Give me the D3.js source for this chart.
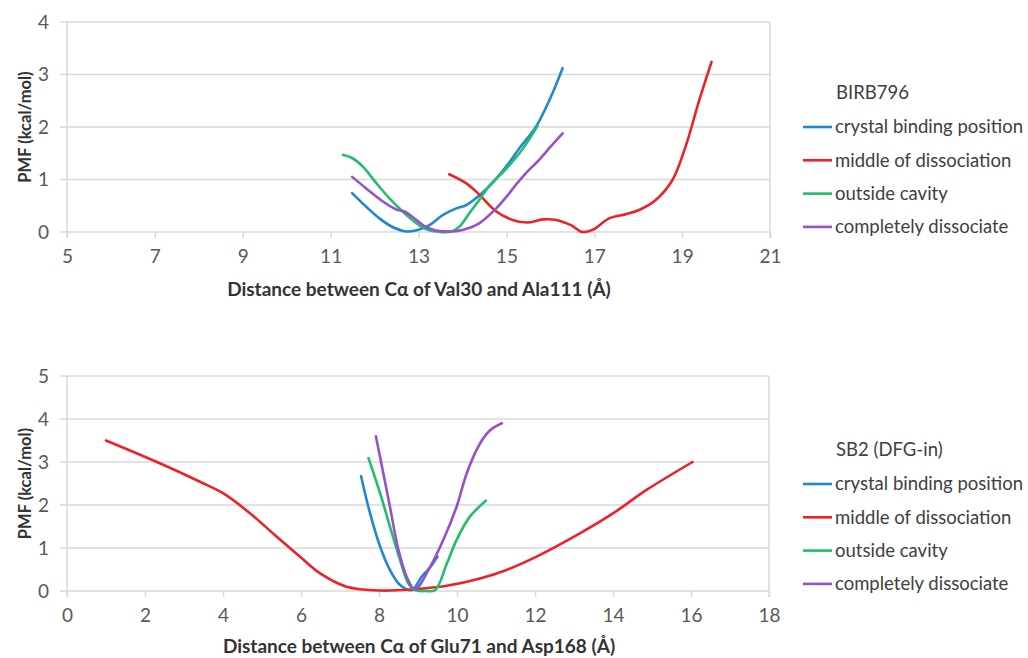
<!DOCTYPE html>
<html>
<head>
<meta charset="utf-8">
<script src="https://cdn.jsdelivr.net/npm/d3@7"></script>
<style>
  body { margin: 0; background: #fff; }
  svg text { font-family: Lato, "Open Sans", sans-serif; }
</style>
</head>
<body>
<svg id="chart" width="1028" height="658"></svg>
<script>
var seriesNames = ["crystal binding position", "middle of dissociation", "outside cavity", "completely dissociate"];
var seriesColors = ["#1f88d2", "#ee2128", "#1fbf6c", "#9650c8"];

// top panel: BIRB796
var topXTicks = [5, 7, 9, 11, 13, 15, 17, 19, 21];
var topYTicks = [0, 1, 2, 3, 4];
var topBlueX = [11.49, 11.81, 12.11, 12.42, 12.72, 12.98, 13.25, 13.55, 13.86, 14.08, 14.39, 14.7, 14.99, 15.3, 15.67, 16.0, 16.28];
var topBlueY = [0.74, 0.48, 0.26, 0.09, 0.01, 0.04, 0.13, 0.32, 0.45, 0.51, 0.70, 0.95, 1.24, 1.6, 2.0, 2.55, 3.12];
var topRedX = [13.70, 14.08, 14.35, 14.77, 15.14, 15.48, 15.83, 16.13, 16.47, 16.73, 16.96, 17.34, 17.72, 18.02, 18.40, 18.78, 19.08, 19.39, 19.67];
var topRedY = [1.10, 0.93, 0.74, 0.39, 0.23, 0.18, 0.24, 0.23, 0.13, 0.0, 0.04, 0.26, 0.34, 0.42, 0.61, 0.99, 1.63, 2.51, 3.24];
var topGreenX = [11.28, 11.51, 11.74, 12.04, 12.34, 12.64, 12.95, 13.18, 13.5, 13.75, 13.93, 14.16, 14.39, 14.61, 14.99, 15.37, 15.71];
var topGreenY = [1.47, 1.40, 1.24, 0.93, 0.64, 0.39, 0.17, 0.05, 0.0, 0.01, 0.1, 0.36, 0.62, 0.88, 1.2, 1.58, 2.02];
var topPurpleX = [11.49, 11.81, 12.19, 12.49, 12.68, 12.95, 13.18, 13.40, 13.70, 14.0, 14.39, 14.77, 15.0, 15.2, 15.4, 15.75, 16.0, 16.28];
var topPurpleY = [1.05, 0.83, 0.58, 0.43, 0.39, 0.23, 0.09, 0.03, 0.01, 0.04, 0.17, 0.45, 0.67, 0.88, 1.08, 1.38, 1.62, 1.88];

// bottom panel: SB2 (DFG-in)
var botXTicks = [0, 2, 4, 6, 8, 10, 12, 14, 16, 18];
var botYTicks = [0, 1, 2, 3, 4, 5];
var botBlueX = [7.54, 7.77, 8.03, 8.28, 8.54, 8.84, 9.09, 9.31, 9.5];
var botBlueY = [2.67, 1.81, 1.03, 0.49, 0.14, 0.02, 0.33, 0.55, 0.8];
var botRedX = [1.0, 2.38, 3.41, 4.01, 4.69, 5.38, 5.97, 6.49, 7.17, 8.03, 8.88, 9.74, 10.59, 11.27, 12.04, 13.15, 14.01, 14.86, 16.04];
var botRedY = [3.50, 2.97, 2.54, 2.27, 1.81, 1.26, 0.80, 0.41, 0.10, 0.01, 0.04, 0.12, 0.29, 0.49, 0.80, 1.34, 1.81, 2.35, 3.0];
var botGreenX = [7.73, 8.03, 8.28, 8.54, 8.75, 8.92, 9.2, 9.44, 9.74, 9.99, 10.33, 10.74];
var botGreenY = [3.09, 2.27, 1.50, 0.72, 0.18, 0.02, 0.0, 0.02, 0.64, 1.19, 1.73, 2.10];
var botPurpleX = [7.92, 8.11, 8.28, 8.50, 8.71, 8.92, 9.31, 9.65, 9.99, 10.25, 10.59, 10.85, 11.15];
var botPurpleY = [3.6, 2.74, 1.96, 0.95, 0.33, 0.04, 0.56, 1.19, 1.96, 2.74, 3.43, 3.74, 3.90];

var svg = d3.select("#chart");

function zip(xs, ys) {
    return xs.map(function(x, i) { return [x, ys[i]]; });
}

function panel(o) {
    var x = d3.scaleLinear().domain(d3.extent(o.xTicks)).range([o.left, o.right]);
    var y = d3.scaleLinear().domain(d3.extent(o.yTicks)).range([o.bottom, o.top]);
    var g = svg.append("g");

    // gridlines (extend left as tick marks)
    g.selectAll("line.grid").data(o.yTicks).enter().append("line")
        .attr("x1", o.left - 7).attr("x2", o.right)
        .attr("y1", function(d) { return y(d); }).attr("y2", function(d) { return y(d); })
        .attr("stroke", "#d9d9d9").attr("stroke-width", 1.5);

    // left axis and right border
    [o.left, o.right].forEach(function(px) {
        g.append("line").attr("x1", px).attr("x2", px)
            .attr("y1", o.top).attr("y2", o.bottom + 6)
            .attr("stroke", "#d9d9d9").attr("stroke-width", 1.5);
    });

    var xAxis = d3.axisBottom(x).tickValues(o.xTicks).tickSize(6).tickPadding(12);
    var ax = g.append("g").attr("transform", "translate(0," + o.bottom + ")").call(xAxis);
    ax.select(".domain").remove();
    ax.selectAll("line").attr("stroke", "#d9d9d9").attr("stroke-width", 1.5);
    ax.selectAll("text").attr("fill", "#595959").style("font-size", "19px").attr("font-family", "Lato");

    g.selectAll("text.ylab").data(o.yTicks).enter().append("text")
        .attr("x", o.left - 18).attr("y", function(d) { return y(d); })
        .attr("dy", "0.35em").attr("text-anchor", "end")
        .attr("fill", "#595959").style("font-size", "19px")
        .text(function(d) { return d; });

    g.append("text")
        .attr("transform", "translate(25," + ((o.top + o.bottom) / 2) + ") rotate(-90)")
        .attr("text-anchor", "middle").attr("dy", "0.35em")
        .attr("font-weight", "bold").style("font-size", "16.5px").attr("fill", "#333")
        .text("PMF (kcal/mol)");

    g.append("text")
        .attr("x", o.titleX).attr("y", o.titleY)
        .attr("text-anchor", "middle")
        .attr("font-weight", "bold").style("font-size", "19px").attr("fill", "#333")
        .text(o.xTitle);

    var line = d3.line()
        .x(function(d) { return x(d[0]); })
        .y(function(d) { return y(d[1]); })
        .curve(d3.curveCatmullRom.alpha(0.5));

    g.selectAll("path.series").data(o.series).enter().append("path")
        .attr("d", line)
        .attr("fill", "none")
        .attr("stroke", function(d, i) { return seriesColors[i]; })
        .attr("stroke-width", 2.6)
        .attr("stroke-linecap", "round");

    // legend
    var lg = g.append("g").attr("transform", "translate(803," + o.legendTop + ")");
    lg.append("text").attr("x", 33).attr("y", 0).attr("dy", "0.35em")
        .style("font-size", "18.5px").attr("fill", "#404040").text(o.legendTitle);
    seriesNames.forEach(function(name, i) {
        var yy = 34 + i * 33.3;
        lg.append("line").attr("x1", 0).attr("x2", 29).attr("y1", yy).attr("y2", yy)
            .attr("stroke", seriesColors[i]).attr("stroke-width", 2.6);
        lg.append("text").attr("x", 32).attr("y", yy).attr("dy", "0.35em")
            .style("font-size", "18.5px").attr("fill", "#404040").text(name);
    });
}

panel({
    left: 67, right: 770, top: 22, bottom: 232,
    xTicks: topXTicks, yTicks: topYTicks,
    xTitle: "Distance between C\u03b1 of Val30 and Ala111 (\u00c5)", titleX: 419, titleY: 296,
    legendTitle: "BIRB796", legendTop: 93,
    series: [zip(topBlueX, topBlueY), zip(topRedX, topRedY), zip(topGreenX, topGreenY), zip(topPurpleX, topPurpleY)]
});

panel({
    left: 67, right: 769, top: 376, bottom: 591,
    xTicks: botXTicks, yTicks: botYTicks,
    xTitle: "Distance between C\u03b1 of Glu71 and Asp168 (\u00c5)", titleX: 419, titleY: 653,
    legendTitle: "SB2 (DFG-in)", legendTop: 450,
    series: [zip(botBlueX, botBlueY), zip(botRedX, botRedY), zip(botGreenX, botGreenY), zip(botPurpleX, botPurpleY)]
});
</script>
</body>
</html>
